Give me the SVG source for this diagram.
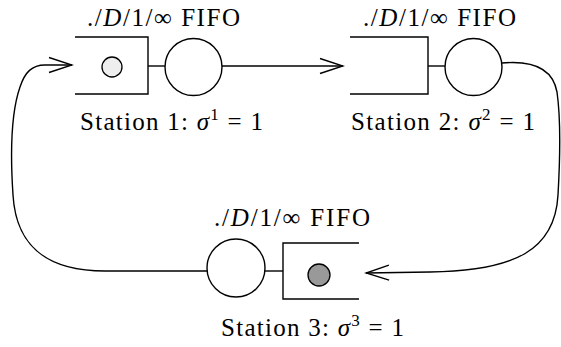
<svg xmlns="http://www.w3.org/2000/svg" width="561" height="347" viewBox="0 0 561 347">
<style>
.ln{fill:none;stroke:#000;stroke-width:1.4}
.srv{fill:#fff;stroke:#000;stroke-width:1.4}
text{font-size:25px;fill:#000}
.i{font-style:italic}
.sup{font-size:17px}
</style>
<defs>
<marker id="ah" markerUnits="userSpaceOnUse" viewBox="-25 -10 27 20" refX="0" refY="0" markerWidth="27" markerHeight="20" orient="auto">
<path d="M-23,-7.5 L0,0 L-23,7.5" fill="none" stroke="#000" stroke-width="1.4"/>
</marker>
</defs>
<g id="connectors">
<path class="ln" d="M222,66 L343,66" marker-end="url(#ah)"/>
<path class="ln" d="M502,63 C535,60 553,70 557,92 C561,120 560,160 558,195 C555,250 515,271 430,272 L366,273" marker-end="url(#ah)"/>
<path class="ln" d="M207,271 L105,271 C45,271 16,245 13,195 C10,150 12,110 20,87 C25,72 32,65 45,65 L72,65" marker-end="url(#ah)"/>
</g>
<g id="station1">
<path class="ln" d="M75,37 L148,37 L148,94 L75,94"/>
<circle cx="112" cy="67" r="10" fill="#eeeeee" stroke="#000" stroke-width="1.3"/>
<line class="ln" x1="148" y1="66" x2="165" y2="66"/>
<circle class="srv" cx="193.5" cy="67" r="28.5"/>
<text font-family="serif" x="87" y="26" textLength="153" lengthAdjust="spacing">./<tspan class="i">D</tspan>/1/∞ FIFO</text>
<text font-family="serif" x="80" y="130" textLength="183" lengthAdjust="spacing">Station 1: <tspan class="i">σ</tspan><tspan class="sup" dy="-10">1</tspan><tspan dy="10"> = 1</tspan></text>
</g>
<g id="station2">
<path class="ln" d="M350,37 L428,37 L428,94 L350,94"/>
<line class="ln" x1="428" y1="66" x2="445" y2="66"/>
<circle class="srv" cx="473.5" cy="67" r="28.5"/>
<text font-family="serif" x="363" y="26" textLength="153" lengthAdjust="spacing">./<tspan class="i">D</tspan>/1/∞ FIFO</text>
<text font-family="serif" x="351" y="130" textLength="184" lengthAdjust="spacing">Station 2: <tspan class="i">σ</tspan><tspan class="sup" dy="-10">2</tspan><tspan dy="10"> = 1</tspan></text>
</g>
<g id="station3">
<circle class="srv" cx="236" cy="268" r="29"/>
<line class="ln" x1="265" y1="271" x2="283" y2="271"/>
<path class="ln" d="M359,243 L283,243 L283,299 L359,299"/>
<circle cx="319" cy="275" r="11" fill="#999999" stroke="#000" stroke-width="1.3"/>
<text font-family="serif" x="214" y="226" textLength="156" lengthAdjust="spacing">./<tspan class="i">D</tspan>/1/∞ FIFO</text>
<text font-family="serif" x="221" y="336" textLength="183" lengthAdjust="spacing">Station 3: <tspan class="i">σ</tspan><tspan class="sup" dy="-10">3</tspan><tspan dy="10"> = 1</tspan></text>
</g>
</svg>
